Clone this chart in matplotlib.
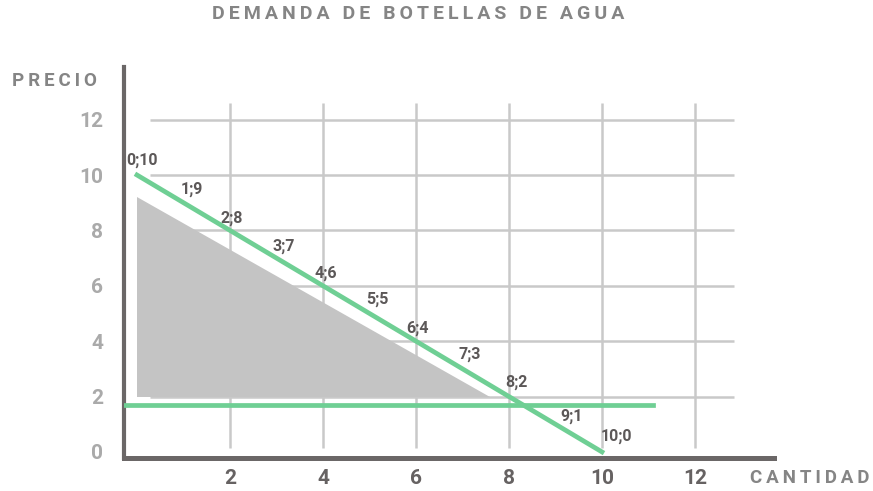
import matplotlib.pyplot as plt
import numpy as np

plt.rcParams['font.family'] = ['Roboto', 'DejaVu Sans']

# demanda: cantidad vs precio
cantidad = [0, 1, 2, 3, 4, 5, 6, 7, 8, 9, 10]
precio = [10, 9, 8, 7, 6, 5, 4, 3, 2, 1, 0]

# precio de mercado (linea horizontal) y area sombreada
precio_mercado = 1.7
mercado_x = [-0.28, 11.1]
area_x = [0, 0, 7.6]
area_y = [9.2, 2.0, 2.0]

xticks = [2, 4, 6, 8, 10, 12]
yticks = [0, 2, 4, 6, 8, 10, 12]

# desplazamiento de las etiquetas (pixeles)
offs = [(5, 15), (8, 13), (2, 12), (7, 12), (3, 12), (8, 14),
        (2, 13), (7, 15), (7, 14), (16, 8), (14, 16)]

verde = '#6fcf94'
gris_eje = '#6b6767'
gris_grid = '#c9c9c9'


def spaced(s):
    return '\u2009'.join(s)


fig = plt.figure(figsize=(8.73, 4.91), dpi=100)
ax = fig.add_axes([0.142, 0.0672, 0.7446, 0.7963])
ax.set_xlim(-0.28, 13.7)
ax.set_ylim(-0.22, 13.9)

# grid manual
for y in yticks[1:]:
    ax.hlines(y, 0.28, 12.85, color=gris_grid, lw=1.8, zorder=1)
for x in xticks:
    ax.vlines(x, 0.14, 12.6, color=gris_grid, lw=1.8, zorder=1)

ax.fill(area_x, area_y, color='#c4c4c4', lw=0, zorder=2)
ax.plot(mercado_x, [precio_mercado, precio_mercado], color=verde, lw=3.4, zorder=3)
ax.plot(cantidad, precio, color=verde, lw=3.4, zorder=3)

for q, p, (dx, dy) in zip(cantidad, precio, offs):
    ax.annotate(f'{q};{p}', (q, p), xytext=(dx * 0.72, dy * 0.72),
                textcoords='offset points', ha='center', va='center',
                fontsize=11.5, fontweight='bold', color='#5c5858', zorder=4)

for s in ['top', 'right']:
    ax.spines[s].set_visible(False)
ax.spines['left'].set_linewidth(3)
ax.spines['bottom'].set_linewidth(3.6)
for s in ['left', 'bottom']:
    ax.spines[s].set_color(gris_eje)
    ax.spines[s].set_capstyle('projecting')

ax.set_xticks(xticks)
ax.set_yticks(yticks)
ax.tick_params(axis='x', length=0, pad=8, labelsize=15, labelcolor='#666262')
ax.tick_params(axis='y', length=0, pad=15, labelsize=15, labelcolor='#aaaaaa')
for t in ax.get_xticklabels() + ax.get_yticklabels():
    t.set_fontweight('bold')

fig.text(0.479, 0.9715, spaced('DEMANDA DE BOTELLAS DE AGUA'), ha='center', va='center',
         fontsize=14, fontweight='bold', color='#858585')
fig.text(0.014, 0.835, spaced('PRECIO'), ha='left', va='center',
         fontsize=13.5, fontweight='bold', color='#858585')
fig.text(0.859, 0.0265, spaced('CANTIDAD'), ha='left', va='center',
         fontsize=13.5, fontweight='bold', color='#858585')

fig.savefig('out.png', dpi=100)
